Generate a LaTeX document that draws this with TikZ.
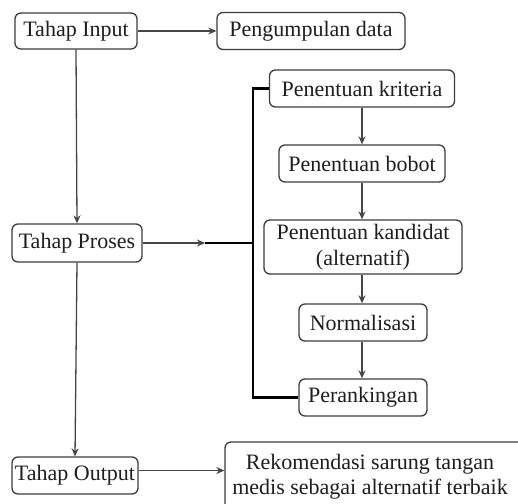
\documentclass[tikz,border=0pt]{standalone}
\usepackage{fontspec}
\newfontfamily\flowfont{Liberation Serif}
\usepackage{tikz}
\usetikzlibrary{arrows.meta, positioning, calc}
\definecolor{FlowLine}{RGB}{70, 70, 70}
\definecolor{FlowBorder}{RGB}{60, 60, 60}
\definecolor{FlowText}{RGB}{30, 30, 30}

\tikzset{
  stagebox/.style={rounded corners=6pt, draw=FlowBorder, line width=1.3pt, fill=white,
        align=center, inner sep=0pt, text=FlowText, font=\flowfont\fontsize{22}{26}\selectfont},
  flowarrow/.style={draw=FlowLine, line width=1.3pt, -{Stealth[length=8pt, width=7pt]}},
  bracketline/.style={draw=black, line width=2.6pt}
}

\begin{document}
\begin{tikzpicture}[x=1pt, y=-1pt]
    \clip (0,0) rectangle (518,503);
    \fill[white] (0,0) rectangle (518,503);

    % stages
    \node[stagebox, minimum width=122pt, minimum height=36pt] (input) at (76,31) {Tahap Input};
    \node[stagebox, minimum width=188pt, minimum height=37pt] (data) at (311,31) {Pengumpulan data};
    \node[stagebox, minimum width=130pt, minimum height=38pt] (proses) at (77,243) {Tahap Proses};
    \node[stagebox, minimum width=126pt, minimum height=37pt] (output) at (75,475.5) {Tahap Output};

    % process steps
    \node[stagebox, minimum width=185pt, minimum height=37pt] (kriteria) at (362,88.5) {Penentuan kriteria};
    \node[stagebox, minimum width=166pt, minimum height=37pt] (bobot) at (362,163.5) {Penentuan bobot};
    \node[stagebox, minimum width=198pt, minimum height=54pt] (kandidat) at (363,247) {Penentuan kandidat\\(alternatif)};
    \node[stagebox, minimum width=128pt, minimum height=37pt] (normal) at (363,322.5) {Normalisasi};
    \node[stagebox, minimum width=128pt, minimum height=37pt] (ranking) at (363,397.5) {Perankingan};

    % result
    \node[stagebox, minimum width=310pt, minimum height=72pt] (rekom) at (380,478) {};
    \node[align=center, inner sep=0pt, text=FlowText, font=\flowfont\fontsize{22}{25}\selectfont] (rekomtext) at (370,477)
        {Rekomendasi sarung tangan\\medis sebagai alternatif terbaik};

    \coordinate (join) at (205,243);
    \coordinate (brace) at (253,243);

    % connectors
    \draw[flowarrow] (input) -- (data);
    \draw[flowarrow] (input.south) -- (proses.north);
    \draw[flowarrow] (proses.south) -- (output.north);
    \draw[flowarrow] ([yshift=5pt]output.east) -- ([yshift=5pt]output.east -| rekom.west);
    \draw[flowarrow] (proses.east) -- (join);
    \draw[bracketline] (join) -- (brace);
    \draw[bracketline] (kriteria.west) -| (brace) |- (ranking.west);
    \draw[flowarrow] (kriteria.south -| 362,0) -- (bobot.north -| 362,0);
    \draw[flowarrow] (bobot.south -| 362,0) -- (kandidat.north -| 362,0);
    \draw[flowarrow] (kandidat.south -| 362,0) -- (normal.north -| 362,0);
    \draw[flowarrow] (normal.south -| 362,0) -- (ranking.north -| 362,0);
\end{tikzpicture}
\end{document}
